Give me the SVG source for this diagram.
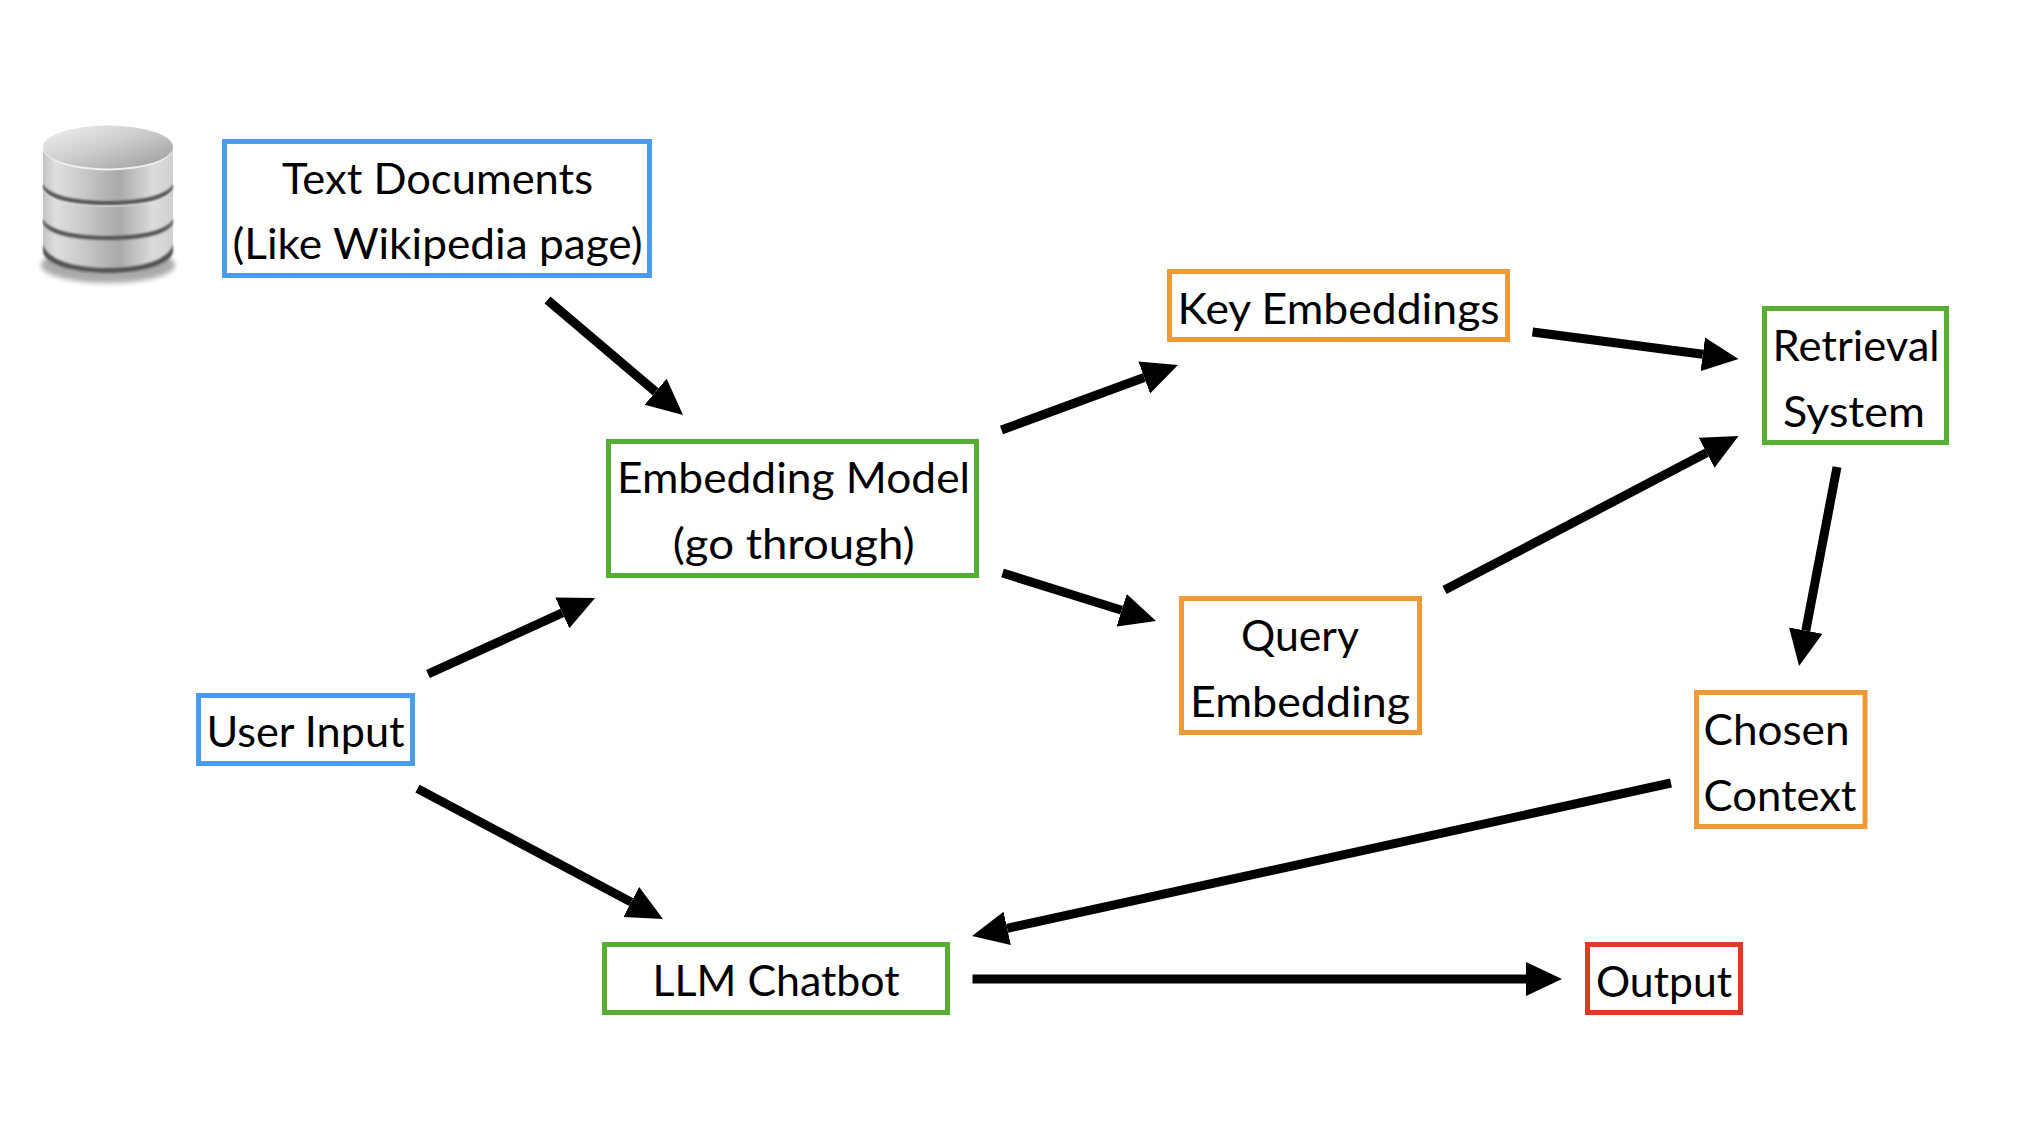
<svg xmlns="http://www.w3.org/2000/svg" width="2042" height="1124" viewBox="0 0 2042 1124">
<style>
.box{fill:#fff;stroke-width:5}
.blue{stroke:#4a9cf0}.green{stroke:#57ae35}.orange{stroke:#f09a37}.red{stroke:#df3a28}
.t{font-family:"Lato","Noto Sans",sans-serif;font-size:43px;fill:#000}
.c{stroke:#000;stroke-width:9;fill:none;marker-end:url(#head)}
</style>
<defs>
<marker id="head" markerUnits="userSpaceOnUse" markerWidth="36" markerHeight="36" refX="0" refY="18" orient="auto"><path d="M0 1L36 18L0 35Z" fill="#000"/></marker>
<linearGradient id="body" x1="0" x2="1" y1="0" y2="0"><stop offset="0" stop-color="#c4c4c4"/><stop offset=".1" stop-color="#dedede"/><stop offset=".32" stop-color="#c8c8c8"/><stop offset=".58" stop-color="#a9a9a9"/><stop offset=".85" stop-color="#dcdcdc"/><stop offset="1" stop-color="#d0d0d0"/></linearGradient>
<linearGradient id="top" x1="0.1" x2="0.85" y1="0.2" y2="0.9"><stop offset="0" stop-color="#e6e6e6"/><stop offset=".45" stop-color="#cdcdcd"/><stop offset="1" stop-color="#a6a6a6"/></linearGradient>
<filter id="soft" x="-20%" y="-50%" width="140%" height="200%"><feGaussianBlur stdDeviation="2.5"/></filter>
<filter id="soft1" x="-5%" y="-20%" width="110%" height="140%"><feGaussianBlur stdDeviation="0.8"/></filter>
</defs>
<rect width="2042" height="1124" fill="#fff"/>
<g id="database">
<ellipse cx="108" cy="265" rx="67" ry="18" fill="#666" opacity=".55" filter="url(#soft)"/>
<path d="M43 150V250C43 264 70 273 108 273C146 273 173 264 173 250V150Z" fill="url(#body)"/>
<path d="M43 250C43 264 70 273 108 273C146 273 173 264 173 250V244C170 258 146 268 108 268C70 268 46 258 43 244Z" fill="#555" filter="url(#soft1)"/>
<path d="M43 187C48 197 75 204 108 204C141 204 168 197 173 187V191C168 202 141 207 108 207C75 207 48 202 43 191Z" fill="#eee" opacity=".7"/>
<path d="M43 184C48 195 75 201 108 201C141 201 168 195 173 184V188C168 200 141 205 108 205C75 205 48 200 43 188Z" fill="#555" filter="url(#soft1)"/>
<path d="M43 219C48 230 75 236 108 236C141 236 168 230 173 219V223C168 235 141 240 108 240C75 240 48 235 43 223Z" fill="#555" filter="url(#soft1)"/>
<ellipse cx="108" cy="148" rx="65" ry="22.5" fill="#f0f0f0"/>
<ellipse cx="108" cy="147" rx="65" ry="21.5" fill="url(#top)"/>
</g>
<g id="connectors">
<line class="c" x1="547.5" y1="300" x2="655.6" y2="391.7"/>
<line class="c" x1="428" y1="674" x2="562.3" y2="612.9"/>
<line class="c" x1="417.5" y1="788.6" x2="631.2" y2="902.1"/>
<line class="c" x1="1001.5" y1="430" x2="1144.2" y2="377.5"/>
<line class="c" x1="1002.5" y1="573" x2="1121.7" y2="610.2"/>
<line class="c" x1="1532.5" y1="332" x2="1702.8" y2="354.3"/>
<line class="c" x1="1444.5" y1="590" x2="1706.6" y2="452.7"/>
<line class="c" x1="1837" y1="467" x2="1805.8" y2="630.6"/>
<line class="c" x1="1671" y1="783" x2="1007.2" y2="928.3"/>
<line class="c" x1="972.5" y1="979" x2="1526" y2="979"/>
</g>
<g id="text-documents"><rect class="box blue" x="224.5" y="141.5" width="425" height="134"/>
<text class="t" x="282" y="193.5" textLength="311" lengthAdjust="spacingAndGlyphs">Text Documents</text>
<text class="t" x="232.5" y="258.5" textLength="410" lengthAdjust="spacingAndGlyphs">(Like Wikipedia page)</text></g>
<g id="embedding-model"><rect class="box green" x="608.5" y="441.5" width="368" height="134"/>
<text class="t" x="617" y="493" textLength="353" lengthAdjust="spacingAndGlyphs">Embedding Model</text>
<text class="t" x="672.7" y="558.5" textLength="242" lengthAdjust="spacingAndGlyphs">(go through)</text></g>
<g id="user-input"><rect class="box blue" x="198.5" y="695.5" width="214" height="68"/>
<text class="t" x="206.5" y="747" textLength="198" lengthAdjust="spacingAndGlyphs">User Input</text></g>
<g id="llm-chatbot"><rect class="box green" x="604.5" y="944.5" width="343" height="68"/>
<text class="t" x="652.6" y="996" textLength="247" lengthAdjust="spacingAndGlyphs">LLM Chatbot</text></g>
<g id="key-embeddings"><rect class="box orange" x="1169.5" y="271.5" width="338" height="68"/>
<text class="t" x="1177.6" y="323.5" textLength="322" lengthAdjust="spacingAndGlyphs">Key Embeddings</text></g>
<g id="query-embedding"><rect class="box orange" x="1181.5" y="598.5" width="238" height="134"/>
<text class="t" x="1241" y="650.5" textLength="118" lengthAdjust="spacingAndGlyphs">Query</text>
<text class="t" x="1190" y="716.5" textLength="220" lengthAdjust="spacingAndGlyphs">Embedding</text></g>
<g id="retrieval-system"><rect class="box green" x="1764.5" y="308.5" width="182" height="134"/>
<text class="t" x="1772.6" y="360.5" textLength="167" lengthAdjust="spacingAndGlyphs">Retrieval</text>
<text class="t" x="1783" y="427" textLength="142" lengthAdjust="spacingAndGlyphs">System</text></g>
<g id="chosen-context"><rect class="box orange" x="1696.5" y="692.5" width="168.5" height="134"/>
<text class="t" x="1703.5" y="744.5" textLength="146" lengthAdjust="spacingAndGlyphs">Chosen</text>
<text class="t" x="1703.5" y="810.5" textLength="153" lengthAdjust="spacingAndGlyphs">Context</text></g>
<g id="output"><rect class="box red" x="1587.5" y="944.5" width="153" height="68"/>
<text class="t" x="1596" y="996.5" textLength="136" lengthAdjust="spacingAndGlyphs">Output</text></g>
</svg>
